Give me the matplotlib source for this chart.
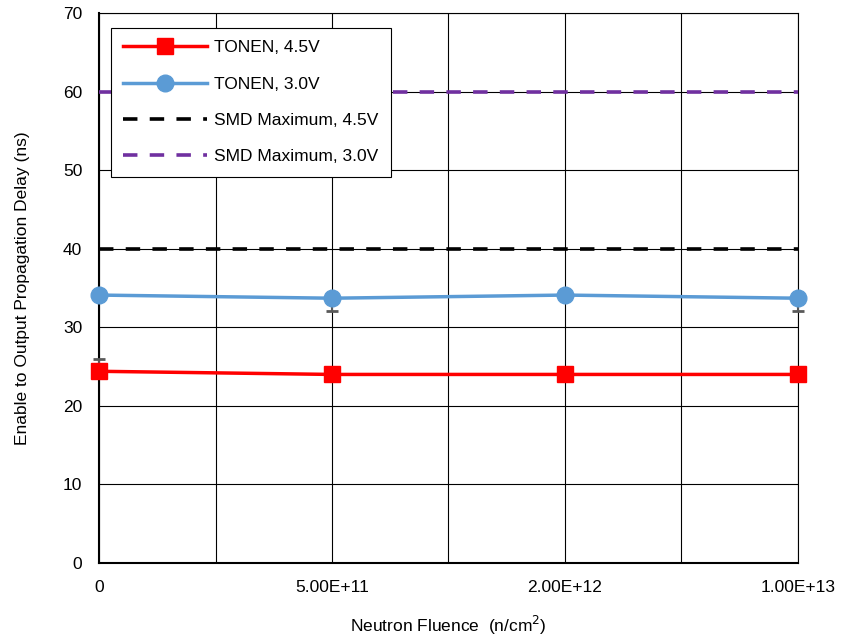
import matplotlib.pyplot as plt
import numpy as np

plt.rcParams['font.family'] = ['Liberation Sans', 'DejaVu Sans']

# fluence steps (categorical axis)
fluence_labels = ['0', '5.00E+11', '2.00E+12', '1.00E+13']
x = np.arange(len(fluence_labels))

# propagation delay (ns)
tonen_45 = [24.4, 24.0, 24.0, 24.0]
tonen_30 = [34.1, 33.7, 34.1, 33.7]
smd_max_45 = [40, 40, 40, 40]
smd_max_30 = [60, 60, 60, 60]

# spread of measured units (lower, upper)
err_45 = [[0, 0, 0, 0], [1.6, 0, 0, 0]]
err_30 = [[0, 1.6, 0, 1.6], [0, 0, 0, 0]]

fig = plt.figure(figsize=(8.42, 6.39), dpi=100)
ax = fig.add_axes([0.1176, 0.1189, 0.8301, 0.8608])

for vals, err in [(tonen_45, err_45), (tonen_30, err_30)]:
    eb = ax.errorbar(x, vals, yerr=err, fmt='none', ecolor='#595959',
                     elinewidth=1.5, capsize=4, capthick=2, zorder=3)
    for art in eb.lines[1] + eb.lines[2]:
        art.set_clip_on(False)

dash = (0, (4, 3.4))
ax.plot(x, tonen_45, color='#FF0000', lw=2.5, marker='s', ms=12,
        label='TONEN, 4.5V', zorder=4, clip_on=False)
ax.plot(x, tonen_30, color='#5B9BD5', lw=2.5, marker='o', ms=12,
        label='TONEN, 3.0V', zorder=4, clip_on=False)
ax.plot(x, smd_max_45, color='black', lw=2.6, ls=dash,
        label='SMD Maximum, 4.5V', zorder=4)
ax.plot(x, smd_max_30, color='#7030A0', lw=2.6, ls=dash,
        label='SMD Maximum, 3.0V', zorder=4)

ax.set_xlim(0, 3)
ax.set_ylim(0, 70)
ax.set_xticks(x)
ax.set_xticklabels(fluence_labels)
ax.set_xticks(np.arange(0.5, 3, 1), minor=True)
ax.set_yticks(np.arange(0, 71, 10))
ax.grid(True, which='both', color='black', lw=0.8)
ax.tick_params(which='both', length=0, labelsize=12.5)
ax.tick_params(axis='y', pad=12)
ax.tick_params(axis='x', pad=12)
for s in ax.spines.values():
    s.set_color('black')
    s.set_linewidth(0.8)
ax.spines['left'].set_linewidth(1.5)
ax.spines['bottom'].set_linewidth(1.5)

ax.set_xlabel('Neutron Fluence  (n/cm$^2$)', fontsize=12.5, labelpad=14)
ax.set_ylabel('Enable to Output Propagation Delay (ns)', fontsize=12.5, labelpad=24)

leg = ax.legend(loc='upper left', bbox_to_anchor=(0.017, 0.973), fontsize=12.5,
                handlelength=4.8, handletextpad=0.4, labelspacing=1.22,
                borderpad=0.72, fancybox=False, framealpha=1,
                edgecolor='black', borderaxespad=0)
leg.get_frame().set_linewidth(0.8)
leg.set_zorder(10)

fig.savefig('out.png', dpi=100)
